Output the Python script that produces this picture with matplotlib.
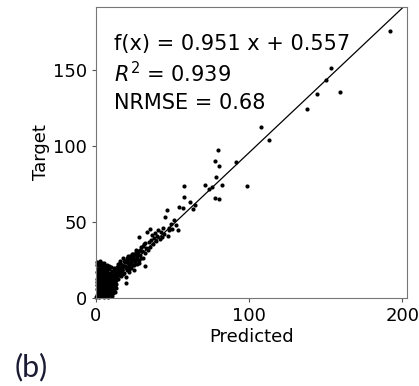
import matplotlib
matplotlib.use("Agg")
import matplotlib.pyplot as plt
import numpy as np

# predicted / target pairs
predicted = [
    # dense cloud near the origin
    0.3, 0.8, 1.2, 0.5, 1.0, 0.4, 0.9, 1.3, 0.6, 1.1, 0.7, 1.0,
    2.0, 2.4, 2.1, 2.7, 2.2, 2.6, 2.3, 2.8, 2.5, 2.9, 2.2, 2.6,
    3.6, 3.9, 3.4, 4.1, 3.7, 4.3, 3.8, 4.2, 3.5, 4.0, 3.9,
    5.0, 5.4, 5.1, 5.7, 5.2, 5.8, 5.3, 5.9, 5.5, 5.6, 5.2,
    6.6, 6.9, 6.4, 7.1, 6.7, 7.3, 6.8, 7.2, 6.5, 7.0,
    8.0, 8.4, 8.1, 8.7, 8.2, 8.8, 8.3, 8.9, 8.5, 8.6,
    9.6, 9.9, 9.4, 10.1, 9.7, 10.3, 9.8, 10.2, 10.0,
    11.3, 11.6, 11.1, 11.8, 11.4, 12.0, 11.5, 11.9,
    12.8, 13.2, 12.9, 13.5, 13.1, 12.6,
    1.6, 3.1, 4.6, 6.1, 7.6, 9.1, 10.6, 1.8, 3.3, 4.8,
    6.3, 7.8, 9.3, 10.8, 12.3, 1.5, 3.0, 4.5, 6.0, 7.5,
    1.7, 1.4, 1.9, 1.5, 1.8, 1.6, 1.3, 1.9, 1.6, 1.4,
    3.2, 3.0, 3.3, 2.9, 3.1, 3.4, 3.0, 3.2, 3.3, 3.1,
    4.8, 4.6, 4.9, 4.5, 4.7, 4.8, 4.6, 4.9, 4.7,
    6.2, 6.0, 6.3, 5.9, 6.1, 6.2, 6.0, 6.3, 6.1,
    7.7, 7.5, 7.8, 7.4, 7.6, 7.9, 7.5, 7.7,
    9.2, 9.0, 9.3, 8.9, 9.1, 9.2, 9.0,
    10.7, 10.5, 10.8, 10.4, 10.6, 10.9,
    12.2, 12.4, 12.1, 12.5, 12.3,
    # band along the diagonal
    13.8, 14.2, 14.6, 15.1, 15.5, 15.9, 16.3, 16.8, 17.2, 17.6,
    18.1, 18.5, 18.9, 19.3, 19.7, 20.2, 20.6, 21.0, 21.5, 21.9,
    22.3, 22.8, 23.2, 23.6, 24.1, 24.5, 24.9, 25.4, 25.8, 26.2,
    26.7, 27.1, 27.5, 28.0, 28.4, 28.8, 29.3, 29.7, 30.1, 30.8,
    31.2, 31.9, 32.3, 33.0, 33.5, 34.0, 34.6, 35.0, 35.5, 36.2,
    36.8, 37.5, 38.1, 38.8, 39.4, 40.1, 40.8, 41.5, 42.2, 43.0,
    43.7, 44.5, 45.4, 46.5, 47.0, 47.5, 48.0, 48.8, 49.5, 50.8,
    52.0, 53.5, 54.0,
    14.5, 15.3, 16.1, 17.0, 17.9, 18.7, 19.6, 20.4, 21.3, 22.1,
    23.0, 23.8, 24.7, 25.6, 26.4, 27.3, 28.2, 29.0, 30.5, 32.0,
    14.0, 15.0, 16.0, 17.1, 18.2, 19.1, 20.0, 21.1, 22.0, 23.1,
    24.0, 25.0, 26.0, 27.0,
    # sparse points
    56.7, 57.8, 57.8, 61.5, 63.6, 65.0, 70.9, 75.9, 73.5, 77.5,
    78.0, 78.5, 79.6, 80.3, 80.3, 82.2, 91.6, 98.6, 107.7, 112.7,
    137.6, 144.6, 150.0, 153.7, 159.6, 191.8,
]
target = [
    0.5, 2.1, 4.0, 6.2, 8.5, 10.3, 12.6, 14.8, 16.9, 19.0, 21.5, 23.6,
    0.8, 3.1, 5.4, 7.7, 9.8, 12.0, 14.1, 16.3, 18.6, 20.7, 22.4, 24.3,
    1.2, 3.5, 5.8, 8.0, 10.2, 12.5, 14.7, 17.0, 19.2, 21.3, 23.2,
    0.6, 2.9, 5.1, 7.4, 9.6, 11.8, 14.0, 16.2, 18.5, 20.9, 22.8,
    1.5, 3.8, 6.0, 8.3, 10.5, 12.7, 15.0, 17.2, 19.4, 21.6,
    0.9, 3.2, 5.5, 7.8, 10.0, 12.2, 14.5, 16.7, 19.0, 21.2,
    2.0, 4.3, 6.6, 8.9, 11.1, 13.3, 15.6, 17.8, 20.3,
    3.0, 5.7, 8.1, 10.4, 12.8, 15.1, 17.5, 19.9,
    6.5, 9.0, 11.6, 14.0, 16.8, 4.2,
    1.4, 2.5, 1.8, 2.2, 1.6, 2.8, 1.2, 11.0, 13.2, 15.4,
    13.6, 15.9, 7.2, 6.4, 8.3, 17.8, 18.9, 20.1, 18.2, 19.6,
    1.3, 3.3, 5.3, 7.3, 9.3, 11.3, 13.3, 15.3, 17.3, 19.3,
    2.3, 4.3, 6.3, 8.3, 10.3, 12.3, 14.3, 16.3, 18.3, 20.3,
    1.6, 3.6, 5.6, 7.6, 9.6, 11.6, 13.6, 15.6, 17.6,
    2.6, 4.6, 6.6, 8.6, 10.6, 12.6, 14.6, 16.6, 18.6,
    1.9, 3.9, 5.9, 7.9, 9.9, 11.9, 13.9, 15.9,
    2.9, 4.9, 6.9, 8.9, 10.9, 12.9, 14.9,
    5.2, 7.2, 9.2, 11.2, 13.2, 15.2,
    8.2, 10.2, 12.2, 14.2, 16.2,
    18.2, 22.5, 12.3, 16.0, 20.4, 24.1, 14.2, 18.7, 22.0, 26.3,
    16.5, 20.9, 24.6, 13.8, 9.6, 18.4, 22.7, 27.4, 16.9, 21.2,
    25.8, 19.5, 23.4, 29.0, 21.6, 26.1, 18.3, 24.0, 28.2, 31.5,
    22.4, 26.9, 30.3, 24.8, 39.9, 28.6, 33.7, 26.0, 30.9, 26.6,
    35.2, 21.0, 29.4, 33.0, 43.6, 31.8, 36.9, 45.2, 33.5, 38.0,
    41.2, 35.8, 39.4, 42.7, 37.6, 41.0, 44.5, 38.9, 43.3, 40.2,
    45.8, 42.1, 53.5, 57.9, 40.8, 46.2, 44.7, 49.0, 45.6, 51.5,
    48.3, 44.7, 60.0,
    15.0, 19.2, 17.3, 21.5, 15.8, 23.7, 20.1, 25.2, 19.0, 27.8,
    22.6, 27.0, 21.9, 28.9, 25.1, 31.0, 22.8, 31.7, 34.3, 36.1,
    20.5, 17.4, 22.8, 19.7, 24.6, 21.3, 26.0, 23.0, 27.2, 24.5,
    29.1, 25.8, 30.4, 28.0,
    59.0, 73.9, 66.6, 63.2, 58.8, 61.5, 74.3, 73.2, 71.8, 90.0,
    66.0, 79.8, 97.4, 87.0, 64.9, 74.3, 89.3, 73.9, 112.3, 104.0,
    124.5, 134.0, 143.4, 151.5, 135.3, 175.7,
]
slope = 0.951
intercept = 0.557
r2 = 0.939
nrmse = 0.68

fig = plt.figure(figsize=(4.19, 3.86), dpi=100)
ax = fig.add_axes([0.229, 0.228, 0.742, 0.754])

ax.scatter(predicted, target, s=9, c='black', marker='o', linewidths=0, clip_on=False)
xs = np.array([0, 210])
ax.plot(xs, slope * xs + intercept, color='black', linewidth=0.9)

ax.set_xlim(0, 203)
ax.set_ylim(0, 191.5)
ax.set_xticks([0, 100, 200])
ax.set_yticks([0, 50, 100, 150])
ax.tick_params(labelsize=13, length=3, color='#555555')
for sp in ax.spines.values():
    sp.set_color('#777777')

ax.set_xlabel('Predicted', fontsize=13, labelpad=2)
ax.set_ylabel('Target', fontsize=13, labelpad=2)

ax.text(12, 167, f'f(x) = {slope} x + {intercept}', fontsize=15, va='center')
ax.text(12, 147.5, f'$R^2$ = {r2}', fontsize=15, va='center')
ax.text(12, 128, f'NRMSE = {nrmse}', fontsize=15, va='center')

fig.text(0.036, 0.025, '(b)', fontsize=22, color='#1b1b33', family='Lato')

fig.savefig('out.png', dpi=100)
